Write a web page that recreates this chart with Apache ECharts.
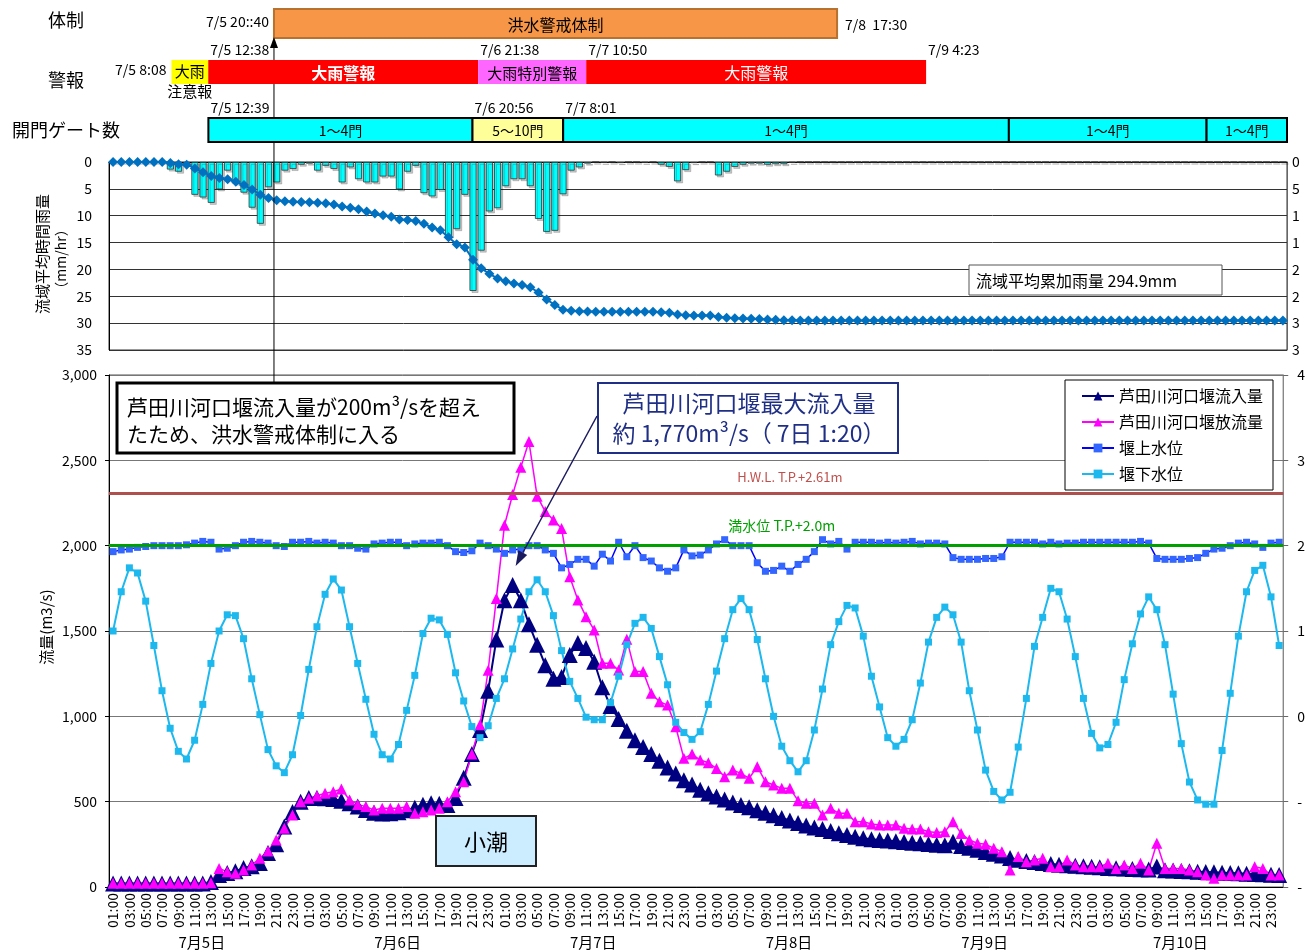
<!DOCTYPE html>
<html>
<head>
<meta charset="utf-8">
<script src="https://cdn.jsdelivr.net/npm/echarts@6/dist/echarts.min.js"></script>
<style>
html, body { margin: 0; padding: 0; background: #fff; }
#chart { width: 1308px; height: 952px; }
</style>
</head>
<body>
<div id="chart"></div>
<script>
const FONT = "'Noto Sans CJK JP', 'Noto Sans', sans-serif";

// ---- time axis ----
const dayKeys = ['7/5', '7/6', '7/7', '7/8', '7/9', '7/10'];
const dayLabels = ['7月5日', '7月6日', '7月7日', '7月8日', '7月9日', '7月10日'];
const hourLabels = ['01:00', '02:00', '03:00', '04:00', '05:00', '06:00', '07:00', '08:00',
  '09:00', '10:00', '11:00', '12:00', '13:00', '14:00', '15:00', '16:00',
  '17:00', '18:00', '19:00', '20:00', '21:00', '22:00', '23:00', '24:00'];
const hourCategories = dayKeys.flatMap(d => hourLabels.map(h => d + ' ' + h));

// ---- hourly basin rainfall (mm/hr) ----
const rainHourly = [
  0, 0, 0, 0, 0, 0, 0, 1.4, 1.8, 0.5,
  6.1, 6.6, 7.6, 5.1, 1.6, 4.0, 5.7, 8.5, 11.5, 4.7,
  3.8, 1.6, 1.3, 0.5, 0.3, 1.6, 0.7, 1.3, 3.8, 1.0,
  3.2, 3.8, 3.8, 2.7, 2.7, 5.1, 1.8, 0.7, 5.8, 6.4,
  5.2, 13.8, 12.5, 6.1, 24.0, 16.5, 9.2, 8.6, 4.5, 3.2,
  3.2, 4.5, 10.6, 13.0, 12.8, 6.0, 1.6, 1.0, 0.3, 0,
  0.1, 0, 0.2, 0, 0, 0.1, 0, 0.5, 0.9, 3.6,
  1.5, 0.2, 0, 0, 2.5, 1.8, 0.9, 0.5, 0.3, 0.3,
  0.5, 0.4, 0.4, 0.1, 0, 0, 0, 0, 0, 0,
  0, 0, 0, 0, 0, 0, 0, 0, 0, 0,
  0, 0, 0, 0, 0, 0, 0, 0, 0, 0,
  0, 0, 0, 0, 0, 0, 0, 0, 0, 0,
  0, 0, 0, 0, 0, 0, 0, 0, 0, 0,
  0, 0, 0, 0, 0, 0, 0, 0, 0, 0,
  0, 0, 0, 0
];

// ---- cumulative basin rainfall (mm) ----
const rainCumulative = [
  0, 0, 0, 0, 0, 0, 0, 2, 4, 5,
  12, 19, 26, 30, 32, 37, 43, 51, 61, 67,
  71, 73, 74, 74.5, 75, 76, 77, 79, 83, 85,
  88, 92, 96, 99, 102, 107, 108, 110, 115, 122,
  127, 140, 153, 159, 182, 198, 208, 217, 222, 226,
  229, 233, 243, 256, 266, 275, 277, 278, 278.5, 279,
  279, 279, 279, 279, 279, 279, 279, 279.5, 280.5, 284,
  285.5, 286, 286, 286, 288.5, 290, 291, 291.5, 292, 292.5,
  293.2, 293.8, 294.4, 294.6, 294.9, 294.9, 294.9, 294.9, 294.9, 294.9,
  294.9, 294.9, 294.9, 294.9, 294.9, 294.9, 294.9, 294.9, 294.9, 294.9,
  294.9, 294.9, 294.9, 294.9, 294.9, 294.9, 294.9, 294.9, 294.9, 294.9,
  294.9, 294.9, 294.9, 294.9, 294.9, 294.9, 294.9, 294.9, 294.9, 294.9,
  294.9, 294.9, 294.9, 294.9, 294.9, 294.9, 294.9, 294.9, 294.9, 294.9,
  294.9, 294.9, 294.9, 294.9, 294.9, 294.9, 294.9, 294.9, 294.9, 294.9,
  294.9, 294.9, 294.9, 294.9
];

// ---- weir inflow (m3/s) ----
const inflow = [
  20, 20, 20, 20, 20, 20, 20, 20, 20, 20,
  20, 20, 30, 70, 82, 92, 111, 121, 141, 199,
  250, 355, 440, 500, 521, 522, 520, 515, 505, 490,
  471, 451, 435, 430, 432, 438, 450, 465, 482, 490,
  488, 480, 521, 640, 780, 920, 1150, 1450, 1680, 1770,
  1680, 1540, 1420, 1300, 1220, 1230, 1360, 1430, 1400, 1320,
  1170, 1060, 985, 915, 860, 820, 780, 740, 700, 665,
  625, 600, 570, 550, 530, 512, 495, 480, 467, 450,
  435, 420, 405, 390, 375, 360, 348, 340, 328, 315,
  305, 295, 285, 280, 275, 272, 268, 264, 260, 256,
  252, 248, 245, 265, 240, 230, 218, 205, 195, 185,
  170, 160, 152, 146, 140, 135, 131, 127, 124, 121,
  118, 115, 112, 110, 108, 106, 104, 102, 120, 98,
  96, 94, 92, 90, 88, 86, 84, 82, 80, 78,
  76, 74, 72, 70
];

// ---- weir outflow (m3/s) ----
const outflow = [
  22, 22, 22, 22, 22, 22, 22, 22, 22, 22,
  22, 22, 25, 109, 90, 80, 100, 129, 168, 211,
  275, 344, 422, 500, 520, 535, 549, 558, 574, 510,
  484, 471, 451, 461, 461, 461, 471, 432, 441, 451,
  461, 500, 558, 617, 780, 950, 1270, 1690, 2120, 2300,
  2460, 2610, 2290, 2200, 2150, 2100, 1818, 1682, 1584, 1506,
  1311, 1311, 1271, 1451, 1262, 1262, 1135, 1086, 1066, 939,
  754, 779, 744, 728, 695, 646, 685, 666, 637, 705,
  617, 598, 578, 578, 506, 490, 490, 422, 461, 432,
  432, 383, 383, 369, 363, 363, 363, 344, 340, 340,
  324, 320, 324, 383, 314, 275, 256, 250, 227, 207,
  100, 178, 148, 158, 168, 119, 119, 158, 129, 119,
  119, 119, 139, 109, 129, 109, 139, 100, 256, 109,
  109, 109, 100, 90, 70, 51, 70, 70, 70, 70,
  119, 109, 70, 70
];

// ---- water level above the weir (T.P. m) ----
const levelUpstream = [
  1.93, 1.95, 1.96, 1.98, 1.99, 2.00, 2.00, 2.00, 2.00, 2.01,
  2.03, 2.05, 2.04, 1.96, 1.97, 2.00, 2.04, 2.05, 2.04, 2.03,
  2.00, 1.99, 2.04, 2.04, 2.05, 2.03, 2.04, 2.03, 2.00, 2.00,
  1.97, 1.96, 2.02, 2.03, 2.04, 2.04, 2.00, 2.02, 2.03, 2.03,
  2.04, 2.00, 1.93, 1.92, 1.94, 2.03, 2.00, 1.96, 1.91, 1.95,
  1.96, 2.00, 2.00, 1.95, 1.91, 1.74, 1.78, 1.84, 1.84, 1.76,
  1.90, 1.82, 2.04, 1.87, 2.00, 1.86, 1.82, 1.74, 1.70, 1.74,
  1.95, 1.88, 1.89, 1.95, 2.02, 2.07, 2.00, 2.00, 2.00, 1.80,
  1.70, 1.71, 1.76, 1.70, 1.78, 1.84, 1.93, 2.07, 2.02, 2.05,
  1.96, 2.04, 2.04, 2.04, 2.03, 2.04, 2.03, 2.04, 2.05, 2.02,
  2.03, 2.03, 2.02, 1.86, 1.84, 1.84, 1.84, 1.85, 1.85, 1.87,
  2.04, 2.04, 2.04, 2.04, 2.02, 2.04, 2.02, 2.03, 2.03, 2.04,
  2.04, 2.04, 2.04, 2.04, 2.04, 2.04, 2.05, 2.03, 1.85, 1.84,
  1.84, 1.84, 1.85, 1.86, 1.91, 1.96, 1.97, 2.00, 2.03, 2.04,
  2.02, 1.98, 2.03, 2.04
];

// ---- water level below the weir (T.P. m) ----
const levelDownstream = [
  1.00, 1.46, 1.74, 1.68, 1.35, 0.83, 0.30, -0.14, -0.41, -0.50,
  -0.28, 0.14, 0.62, 1.00, 1.19, 1.18, 0.91, 0.44, 0.02, -0.39,
  -0.58, -0.66, -0.45, 0.01, 0.55, 1.05, 1.43, 1.61, 1.48, 1.05,
  0.62, 0.20, -0.21, -0.45, -0.50, -0.33, 0.07, 0.48, 0.97, 1.15,
  1.13, 0.96, 0.51, 0.18, -0.12, -0.25, -0.11, 0.21, 0.44, 0.79,
  1.14, 1.46, 1.60, 1.46, 1.18, 0.77, 0.41, 0.21, -0.01, -0.04,
  -0.04, 0.16, 0.47, 0.84, 1.09, 1.16, 1.03, 0.70, 0.37, -0.07,
  -0.19, -0.27, -0.18, 0.14, 0.53, 0.91, 1.25, 1.38, 1.25, 0.90,
  0.44, 0.00, -0.35, -0.52, -0.65, -0.52, -0.16, 0.32, 0.84, 1.11,
  1.30, 1.27, 0.94, 0.47, 0.11, -0.25, -0.35, -0.27, -0.04, 0.39,
  0.87, 1.16, 1.28, 1.19, 0.87, 0.30, -0.16, -0.63, -0.88, -0.98,
  -0.89, -0.36, 0.21, 0.82, 1.16, 1.50, 1.46, 1.14, 0.70, 0.21,
  -0.20, -0.37, -0.33, -0.07, 0.43, 0.85, 1.20, 1.40, 1.25, 0.84,
  0.26, -0.32, -0.77, -0.98, -1.03, -1.03, -0.40, 0.27, 0.94, 1.46,
  1.71, 1.77, 1.40, 0.83
];

// ---- reference water levels (T.P. m) ----
const levelHWL = 2.61;
const levelFull = 2.0;

// ---- operation timeline ----
const taiseiPeriods = [
  ['7/5 20:40', '7/8 17:30', '洪水警戒体制', 'taisei']
];
const warningPeriods = [
  ['7/5 8:08', '7/5 12:38', '大雨\n注意報', 'advisory'],
  ['7/5 12:38', '7/6 21:38', '大雨警報', 'warningBold'],
  ['7/6 21:38', '7/7 10:50', '大雨特別警報', 'special'],
  ['7/7 10:50', '7/9 4:23', '大雨警報', 'warning']
];
const gatePeriods = [
  ['7/5 12:39', '7/6 20:56', '1～4門', 'gate'],
  ['7/6 20:56', '7/7 8:01', '5～10門', 'gateMore'],
  ['7/7 8:01', '7/9 14:30', '1～4門', 'gate'],
  ['7/9 14:30', '7/10 14:40', '1～4門', 'gate'],
  ['7/10 14:40', '7/11 0:30', '1～4門', 'gate']
];
const timeStamps = [
  [0, '7/5 20:40', '7/5 20::40', 'before'],
  [0, '7/8 17:30', '7/8  17:30', 'after'],
  [1, '7/5 8:08', '7/5 8:08', 'before'],
  [1, '7/5 12:38', '7/5 12:38', 'above'],
  [1, '7/6 21:38', '7/6 21:38', 'above'],
  [1, '7/7 10:50', '7/7 10:50', 'above'],
  [1, '7/9 4:23', '7/9 4:23', 'above'],
  [2, '7/5 12:39', '7/5 12:39', 'above'],
  [2, '7/6 20:56', '7/6 20:56', 'above'],
  [2, '7/7 8:01', '7/7 8:01', 'above']
];
const rowTitles = ['体制', '警報', '開門ゲート数'];

// "M/D h:mm" -> position on the hourly category scale (0 = 7/5 01:00)
function timeToIndex(s) {
  const [md, hm] = s.split(' ');
  const d = Number(md.split('/')[1]);
  const [h, mi] = hm.split(':').map(Number);
  return (d - 5) * 24 + h + mi / 60 - 1;
}

// ---- layout / styles of the timeline rows ----
const ROWS = [
  { top: 9, height: 29, titleY: 20 },
  { top: 60, height: 24, titleY: 80 },
  { top: 118, height: 24, titleY: 130 }
];
const PERIOD_STYLE = {
  taisei: { fill: '#F79646', stroke: '#B8722F', lineWidth: 2, color: '#000', size: 16, weight: 'normal' },
  advisory: { fill: '#FFFF00', stroke: null, lineWidth: 0, color: '#000', size: 15, weight: 'normal' },
  warningBold: { fill: '#FF0000', stroke: null, lineWidth: 0, color: '#fff', size: 16, weight: 'bold' },
  warning: { fill: '#FF0000', stroke: null, lineWidth: 0, color: '#fff', size: 16, weight: 'normal' },
  special: { fill: '#FF66FF', stroke: null, lineWidth: 0, color: '#000', size: 15, weight: 'normal' },
  gate: { fill: '#00FFFF', stroke: '#000', lineWidth: 2, color: '#000', size: 14, weight: 'normal' },
  gateMore: { fill: '#FFFF99', stroke: '#000', lineWidth: 2, color: '#000', size: 14, weight: 'normal' }
};

const headerItems = [];
[taiseiPeriods, warningPeriods, gatePeriods].forEach((list, row) => {
  list.forEach(p => headerItems.push({ s: timeToIndex(p[0]), e: timeToIndex(p[1]), label: p[2], kind: p[3], row }));
});
const stampItems = timeStamps.map(t => ({ row: t[0], t: timeToIndex(t[1]), text: t[2], pos: t[3] }));

const ALERT_LINE_BOTTOM = 383;

function renderPeriod(params, api) {
  const it = headerItems[params.dataIndex];
  const x0 = api.coord([api.value(0), 0])[0];
  const x1 = api.coord([api.value(1), 0])[0];
  const r = ROWS[it.row];
  const st = PERIOD_STYLE[it.kind];
  const children = [{
    type: 'rect',
    shape: { x: x0, y: r.top, width: x1 - x0, height: r.height },
    style: { fill: st.fill, stroke: st.stroke, lineWidth: st.lineWidth }
  }];
  const multi = it.label.indexOf('\n') >= 0;
  children.push({
    type: 'text',
    style: {
      text: it.label,
      x: (x0 + x1) / 2,
      y: multi ? r.top + 1 : r.top + r.height / 2 + 1,
      align: 'center',
      verticalAlign: multi ? 'top' : 'middle',
      lineHeight: 20,
      fill: st.color,
      font: st.weight + ' ' + st.size + 'px ' + FONT
    }
  });
  if (it.kind === 'taisei') {
    const ay = r.top + r.height;
    children.push({
      type: 'line',
      shape: { x1: x0, y1: ay + 6, x2: x0, y2: ALERT_LINE_BOTTOM },
      style: { stroke: '#000', lineWidth: 1 }
    });
    children.push({
      type: 'polygon',
      shape: { points: [[x0, ay - 1], [x0 - 4, ay + 10], [x0 + 4, ay + 10]] },
      style: { fill: '#000' }
    });
  }
  return { type: 'group', children };
}

function renderStamp(params, api) {
  const it = stampItems[params.dataIndex];
  const x = api.coord([api.value(0), 0])[0];
  const r = ROWS[it.row];
  let px, py, align;
  if (it.pos === 'before') { px = x - 5; py = r.top + r.height / 2 - 2; align = 'right'; }
  else if (it.pos === 'after') { px = x + 8; py = r.top + r.height / 2 + 1; align = 'left'; }
  else { px = x + 2; py = r.top - 10; align = 'left'; }
  return {
    type: 'text',
    style: {
      text: it.text, x: px, y: py, align, verticalAlign: 'middle',
      fill: '#000', font: '14px ' + FONT
    }
  };
}

const chart = echarts.init(document.getElementById('chart'));

const GRID_LEFT = 109, GRID_W = 1178;

chart.setOption({
  animation: false,
  textStyle: { fontFamily: FONT },
  grid: [
    { left: GRID_LEFT, top: 162, width: GRID_W, height: 188, show: true, borderColor: '#333', borderWidth: 1 },
    { left: GRID_LEFT, top: 375, width: GRID_W, height: 512, show: true, borderColor: '#555', borderWidth: 1 },
    { left: GRID_LEFT, top: 0, width: GRID_W, height: 150 }
  ],
  legend: {
    left: 1065, top: 380, orient: 'vertical',
    padding: [8, 10, 8, 16], itemGap: 10, itemWidth: 32, itemHeight: 11,
    backgroundColor: '#fff', borderColor: '#000', borderWidth: 1,
    textStyle: { fontSize: 16, lineHeight: 16, color: '#000', fontFamily: FONT },
    data: ['芦田川河口堰流入量', '芦田川河口堰放流量', '堰上水位', '堰下水位']
  },
  xAxis: [
    {
      type: 'category', gridIndex: 0, data: hourCategories, position: 'top',
      axisLine: { onZero: false, lineStyle: { color: '#000' } },
      axisTick: { inside: true, length: 3, interval: 0, lineStyle: { color: '#000' } },
      axisLabel: { show: false }
    },
    {
      type: 'category', gridIndex: 1, data: hourCategories, position: 'bottom',
      axisLine: { onZero: false, lineStyle: { color: '#000' } },
      axisTick: { inside: true, length: 4, interval: 0, lineStyle: { color: '#000' } },
      axisLabel: {
        interval: 1, rotate: 90, margin: 6, fontSize: 14, color: '#000', fontFamily: FONT,
        formatter: v => v.split(' ')[1]
      }
    },
    {
      type: 'category', gridIndex: 1, data: dayLabels, position: 'bottom', offset: 40,
      axisLine: { show: false }, axisTick: { show: false },
      axisLabel: { margin: 8, fontSize: 15, color: '#000', fontFamily: FONT, padding: [0, 10, 0, 0] }
    },
    { type: 'value', gridIndex: 2, min: -0.5, max: 143.5, show: false }
  ],
  yAxis: [
    {
      type: 'value', gridIndex: 0, inverse: true, min: 0, max: 35, interval: 5,
      axisLine: { show: true, lineStyle: { color: '#000' } },
      axisTick: { show: false },
      axisLabel: { margin: 17, fontSize: 14, color: '#000', fontFamily: FONT },
      splitLine: { lineStyle: { color: '#333', width: 1 } }
    },
    {
      type: 'value', gridIndex: 0, inverse: true, min: 0, max: 350, interval: 50, position: 'right',
      axisLine: { show: true, lineStyle: { color: '#666' } },
      axisTick: { show: false },
      axisLabel: { margin: 5, fontSize: 14, color: '#000', fontFamily: FONT, width: 9, overflow: 'truncate', ellipsis: '' },
      splitLine: { show: false }
    },
    {
      type: 'value', gridIndex: 1, min: 0, max: 3000, interval: 500,
      axisLine: { show: true, lineStyle: { color: '#000' } },
      axisTick: { show: true, length: 4, lineStyle: { color: '#000' } },
      axisLabel: {
        margin: 12, fontSize: 14, color: '#000', fontFamily: FONT,
        formatter: v => v.toLocaleString('en-US')
      },
      splitLine: { lineStyle: { color: '#777', width: 1 } }
    },
    {
      type: 'value', gridIndex: 1, min: -2, max: 4, interval: 1, position: 'right',
      axisLine: { show: true, lineStyle: { color: '#888' } },
      axisTick: { show: true, length: 5, lineStyle: { color: '#666' } },
      axisLabel: { margin: 14, fontSize: 14, color: '#000', fontFamily: FONT, width: 9, overflow: 'truncate', ellipsis: '' },
      splitLine: { show: false }
    },
    { type: 'value', gridIndex: 2, min: 0, max: 1, show: false }
  ],
  series: [
    {
      name: '流域平均時間雨量', type: 'bar', xAxisIndex: 0, yAxisIndex: 0,
      data: rainHourly, barWidth: 7,
      itemStyle: {
        color: '#00FFFF', borderColor: '#333', borderWidth: 0.8,
        shadowColor: 'rgba(0,0,0,0.22)', shadowOffsetX: 2, shadowOffsetY: 2, shadowBlur: 0
      }
    },
    {
      name: '流域平均累加雨量', type: 'line', xAxisIndex: 0, yAxisIndex: 1,
      data: rainCumulative, symbol: 'diamond', symbolSize: 10, showAllSymbol: true,
      lineStyle: { color: '#0070C0', width: 2 }, itemStyle: { color: '#0070C0' }
    },
    {
      name: '芦田川河口堰流入量', type: 'line', xAxisIndex: 1, yAxisIndex: 2,
      data: inflow, symbol: 'triangle', symbolSize: 16, showAllSymbol: true,
      lineStyle: { color: '#000080', width: 2 }, itemStyle: { color: '#000080' }
    },
    {
      name: '芦田川河口堰放流量', type: 'line', xAxisIndex: 1, yAxisIndex: 2,
      data: outflow, symbol: 'triangle', symbolSize: 11, showAllSymbol: true,
      lineStyle: { color: '#FF00FF', width: 1.5 }, itemStyle: { color: '#FF00FF' }
    },
    {
      name: '堰上水位', type: 'line', xAxisIndex: 1, yAxisIndex: 3,
      data: levelUpstream, symbol: 'rect', symbolSize: 7, showAllSymbol: true,
      lineStyle: { color: '#0000FF', width: 1.5 }, itemStyle: { color: '#3366FF' },
      markLine: {
        silent: true, symbol: 'none', label: { show: false },
        data: [
          { yAxis: levelHWL, lineStyle: { color: '#B0504E', width: 3, type: 'solid' } },
          { yAxis: levelFull, lineStyle: { color: '#00A000', width: 3, type: 'solid' } }
        ]
      },
      z: 3
    },
    {
      name: '堰下水位', type: 'line', xAxisIndex: 1, yAxisIndex: 3,
      data: levelDownstream, symbol: 'rect', symbolSize: 7, showAllSymbol: true,
      lineStyle: { color: '#1CB8EE', width: 2 }, itemStyle: { color: '#1CB8EE' }, z: 3
    },
    {
      name: 'timeline', type: 'custom', xAxisIndex: 3, yAxisIndex: 4,
      data: headerItems.map((it, i) => [it.s, it.e, it.row, i]),
      renderItem: renderPeriod, silent: true, z: 5
    },
    {
      name: 'timestamps', type: 'custom', xAxisIndex: 3, yAxisIndex: 4,
      data: stampItems.map((it, i) => [it.t, it.row, i]),
      renderItem: renderStamp, silent: true, z: 5
    }
  ]
});

// ---- annotations ----
const peakIdx = inflow.indexOf(Math.max(...inflow));
const peakVal = inflow[peakIdx];
const peakPx = chart.convertToPixel({ seriesIndex: 2 }, [peakIdx, peakVal]);
const hwlPx = chart.convertToPixel({ seriesIndex: 4 }, [83, levelHWL]);
const fullPx = chart.convertToPixel({ seriesIndex: 4 }, [82, levelFull]);
const totalRain = rainCumulative[rainCumulative.length - 1];

const arrowStart = [597, 416];
const arrowTip = [peakPx[0] + 3, peakPx[1] - 19];
const dx = arrowTip[0] - arrowStart[0], dy = arrowTip[1] - arrowStart[1];
const len = Math.hypot(dx, dy), ux = dx / len, uy = dy / len;
const baseX = arrowTip[0] - ux * 15, baseY = arrowTip[1] - uy * 15;

const g = [];
rowTitles.forEach((t, i) => g.push({
  type: 'text', x: 66, y: ROWS[i].titleY,
  style: { text: t, font: '18px ' + FONT, fill: '#000', align: 'center', verticalAlign: 'middle' }
}));
g.push(
  { type: 'text', x: 42, y: 254, rotation: Math.PI / 2,
    style: { text: '流域平均時間雨量', font: '15px ' + FONT, fill: '#000', align: 'center', verticalAlign: 'middle' } },
  { type: 'text', x: 61, y: 259, rotation: Math.PI / 2,
    style: { text: '（mm/hr）', font: '14px ' + FONT, fill: '#000', align: 'center', verticalAlign: 'middle' } },
  { type: 'text', x: 46, y: 627, rotation: Math.PI / 2,
    style: { text: '流量(m3/s)', font: '15px ' + FONT, fill: '#000', align: 'center', verticalAlign: 'middle' } },
  // cumulative total
  { type: 'rect', shape: { x: 969, y: 265, width: 253, height: 30 }, style: { fill: '#fff', stroke: '#555', lineWidth: 1 }, z: 50 },
  { type: 'text', x: 976, y: 281, z: 51,
    style: { text: '流域平均累加雨量 ' + totalRain.toFixed(1) + 'mm', font: '16px ' + FONT, fill: '#000', align: 'left', verticalAlign: 'middle' } },
  // alert note
  { type: 'rect', shape: { x: 117, y: 383, width: 397, height: 70 }, style: { fill: '#fff', stroke: '#000', lineWidth: 3 }, z: 50 },
  { type: 'text', x: 127, y: 394, z: 51,
    style: { text: '芦田川河口堰流入量が200m³/sを超え\nたため、洪水警戒体制に入る', font: '21px ' + FONT, lineHeight: 27, fill: '#000', align: 'left', verticalAlign: 'top' } },
  // peak note
  { type: 'rect', shape: { x: 598, y: 383, width: 300, height: 70 }, style: { fill: '#fff', stroke: '#1F2F86', lineWidth: 2 }, z: 50 },
  { type: 'text', x: 749, y: 388, z: 51,
    style: { text: '芦田川河口堰最大流入量\n約 ' + peakVal.toLocaleString('en-US') + 'm³/s（ 7日 1:20）', font: '23px ' + FONT, lineHeight: 30, fill: '#1F2F86', align: 'center', verticalAlign: 'top' } },
  { type: 'line', shape: { x1: arrowStart[0], y1: arrowStart[1], x2: baseX, y2: baseY }, style: { stroke: '#1A1A5E', lineWidth: 1.5 }, z: 50 },
  { type: 'polygon', z: 50,
    shape: { points: [arrowTip, [baseX + uy * 5, baseY - ux * 5], [baseX - uy * 5, baseY + ux * 5]] },
    style: { fill: '#1A1A5E' } },
  // neap tide
  { type: 'rect', shape: { x: 436, y: 816, width: 100, height: 50 }, style: { fill: '#CCECFF', stroke: '#222', lineWidth: 2 }, z: 50 },
  { type: 'text', x: 486, y: 842, z: 51,
    style: { text: '小潮', font: '22px ' + FONT, fill: '#000', align: 'center', verticalAlign: 'middle' } },
  // reference level captions
  { type: 'text', x: hwlPx[0], y: hwlPx[1] - 17, z: 40,
    style: { text: 'H.W.L. T.P.+' + levelHWL + 'm', font: '13px ' + FONT, fill: '#C0504D', align: 'center', verticalAlign: 'middle' } },
  { type: 'text', x: fullPx[0], y: fullPx[1] - 20, z: 40,
    style: { text: '満水位 T.P.+' + levelFull.toFixed(1) + 'm', font: '14px ' + FONT, fill: '#00A000', align: 'center', verticalAlign: 'middle' } }
);
chart.setOption({ graphic: g });
</script>
</body>
</html>
